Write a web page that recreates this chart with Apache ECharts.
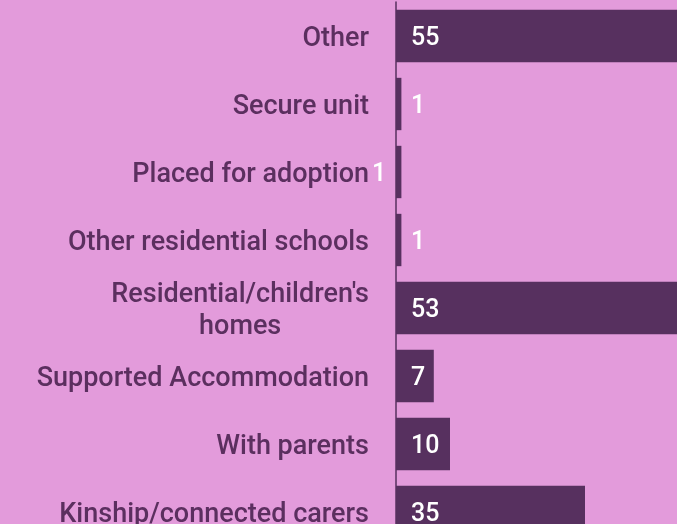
<!DOCTYPE html>
<html>
<head>
    <meta charset="utf-8">
    <title>Placements</title>
    <script src="https://cdn.jsdelivr.net/npm/echarts@6/dist/echarts.min.js"></script>
    <style>
        html, body { margin: 0; padding: 0; background: #E39BDB; }
        #main { width: 677px; height: 524px; }
    </style>
</head>
<body>
<div id="main"></div>
<script>
    // bottom to top, as the category axis draws them
    var categories = ['Kinship/connected carers', 'With parents', 'Supported Accommodation',
        "Residential/children's\nhomes", 'Other residential schools', 'Placed for adoption',
        'Secure unit', 'Other'];
    var counts = [35, 10, 7, 53, 1, 1, 1, 55];

    var purple = '#57305F';
    var textPurple = '#5B2F5F';

    var data = counts.map(function (v, i) {
        var item = {value: v};
        // in the original this one label sits left of the axis
        if (categories[i] === 'Placed for adoption') {
            item.label = {offset: [-39, 3]};
        }
        return item;
    });

    var myChart = echarts.init(document.getElementById('main'), null, {renderer: 'canvas'});
    var option = {
        backgroundColor: '#E39BDB',
        animation: false,
        grid: {left: 396, top: 2, width: 324, height: 544, outerBoundsMode: 'none'},
        xAxis: {
            type: 'value',
            min: 0,
            max: 60,
            show: false,
            splitLine: {show: false}
        },
        yAxis: {
            type: 'category',
            data: categories,
            axisLine: {show: true, lineStyle: {color: purple, width: 1.5}},
            axisTick: {show: false},
            axisLabel: {
                margin: 27,
                color: textPurple,
                fontFamily: 'Roboto',
                fontWeight: 500,
                fontSize: 27,
                lineHeight: 32,
                padding: [7, 0, 0, 0],
                formatter: function (val) {
                    return val.split('\n').map(function (s) {
                        return '{c|' + s + '}';
                    }).join('\n');
                },
                rich: {
                    c: {align: 'center', color: textPurple, fontFamily: 'Roboto', fontWeight: 500, fontSize: 27, lineHeight: 32}
                }
            }
        },
        series: [
            {
                type: 'bar',
                data: data,
                barCategoryGap: '23%',
                itemStyle: {color: purple},
                label: {
                    show: true,
                    position: 'insideLeft',
                    distance: 15,
                    offset: [0, 3],
                    color: '#ffffff',
                    fontFamily: 'Roboto',
                    fontWeight: 500,
                    fontSize: 25
                }
            }
        ]
    };
    myChart.setOption(option);
</script>
</body>
</html>
